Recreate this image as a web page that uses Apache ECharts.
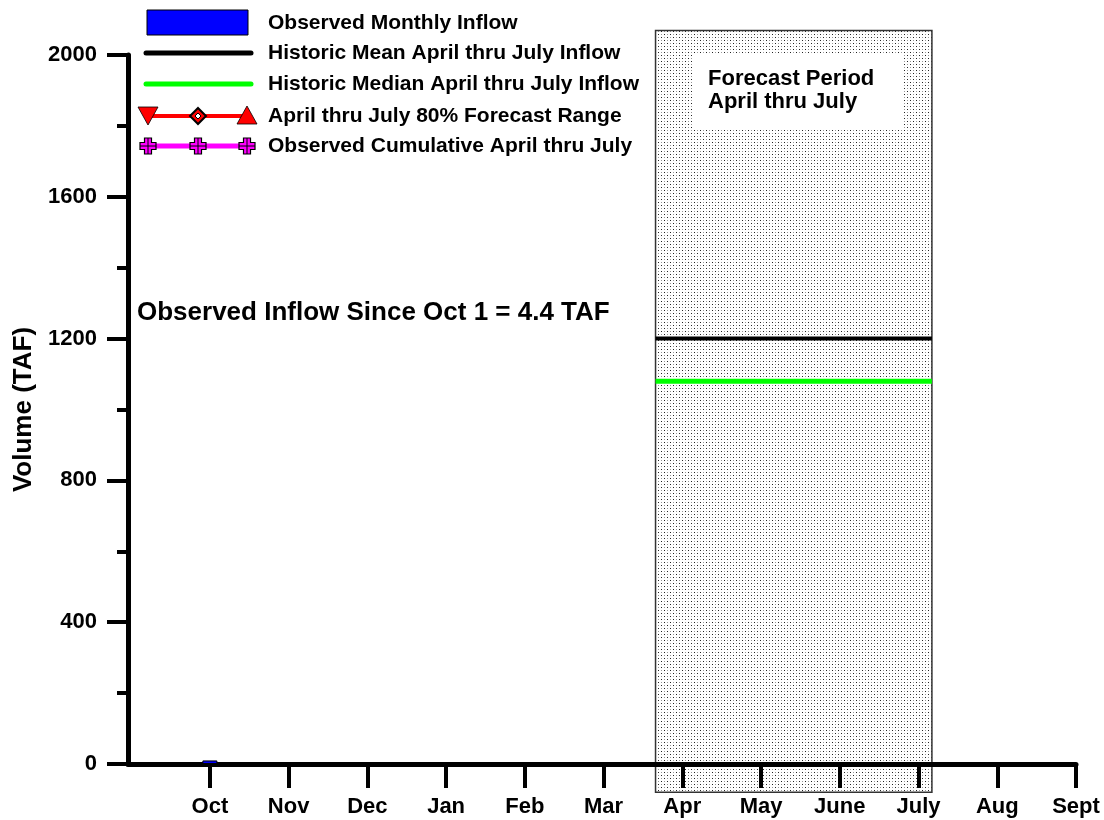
<!DOCTYPE html>
<html><head><meta charset="utf-8">
<script src="https://cdn.jsdelivr.net/npm/echarts@6/dist/echarts.min.js"></script>
<style>html,body{margin:0;padding:0;background:#fff}#c{width:1104px;height:820px}</style>
</head><body><div id="c"></div>
<script>
// ---- data ----
const months = ['Oct','Nov','Dec','Jan','Feb','Mar','Apr','May','June','July','Aug','Sept'];
const monthPositions = [1,2,3,4,5,6,7,8,9,10,11,12];
const observedMonthly = [4.4];          // Oct only
const historicMean = 1200;               // TAF, April thru July
const historicMedian = 1080;             // TAF, April thru July
const forecastSpan = [6.66, 10.17];      // x-range of forecast period box
const forecastVolumeSpan = [-80, 2069];  // y-range of forecast period box
const yTickValues = [0, 400, 800, 1200, 1600, 2000];
const legendLabels = ['Observed Monthly Inflow','Historic Mean April thru July Inflow','Historic Median April thru July Inflow','April thru July 80% Forecast Range','Observed Cumulative April thru July'];

const FONT = '"Liberation Sans", Arial, sans-serif';
const totalObserved = observedMonthly.reduce((a,b)=>a+b,0);

// dotted pattern
const pat = document.createElement('canvas');
pat.width = 6; pat.height = 6;
const pctx = pat.getContext('2d');
pctx.fillStyle = '#fff'; pctx.fillRect(0,0,6,6);
pctx.fillStyle = '#222'; pctx.fillRect(1,1,1,1); pctx.fillRect(4,4,1,1);
pctx.fillStyle = '#999'; pctx.fillRect(4,1,1,1); pctx.fillRect(1,4,1,1);

const chart = echarts.init(document.getElementById('c'), null, {renderer:'canvas'});

// legend graphics
const lx0 = 148, lx1 = 198, lx2 = 247, ltx = 268;
const rowY = [23, 53, 84, 116, 146];
const legend = [];
legend.push({type:'rect', shape:{x:147, y:10, width:101, height:25}, style:{fill:'#0000ff', stroke:'#000', lineWidth:1}});
legend.push({type:'line', shape:{x1:146, y1:rowY[1], x2:251, y2:rowY[1]}, style:{stroke:'#000', lineWidth:5, lineCap:'round'}});
legend.push({type:'line', shape:{x1:146, y1:rowY[2], x2:251, y2:rowY[2]}, style:{stroke:'#00ff00', lineWidth:5, lineCap:'round'}});
legend.push({type:'line', shape:{x1:lx0, y1:rowY[3], x2:lx2, y2:rowY[3]}, style:{stroke:'#ff0000', lineWidth:4}});
legend.push({type:'polygon', shape:{points:[[lx0-10,rowY[3]-9],[lx0+10,rowY[3]-9],[lx0,rowY[3]+9]]}, style:{fill:'#ff0000', stroke:'#000', lineWidth:0.8}});
legend.push({type:'polygon', shape:{points:[[lx2,rowY[3]-10],[lx2+10,rowY[3]+8],[lx2-10,rowY[3]+8]]}, style:{fill:'#ff0000', stroke:'#000', lineWidth:0.8}});
legend.push({type:'polygon', shape:{points:[[lx1,rowY[3]-8],[lx1+8,rowY[3]],[lx1,rowY[3]+8],[lx1-8,rowY[3]]]}, style:{fill:'#ff0000', stroke:'#000', lineWidth:2}});
legend.push({type:'polygon', shape:{points:[[lx1,rowY[3]-3],[lx1+3,rowY[3]],[lx1,rowY[3]+3],[lx1-3,rowY[3]]]}, style:{fill:'#fff', stroke:'#000', lineWidth:1}});
legend.push({type:'line', shape:{x1:lx0, y1:rowY[4], x2:lx2, y2:rowY[4]}, style:{stroke:'#ff00ff', lineWidth:5}});
[lx0, lx1, lx2].forEach(cx => {
  const cy = rowY[4], a = 3.5, b = 8;
  legend.push({type:'polygon', shape:{points:[[cx-a,cy-b],[cx+a,cy-b],[cx+a,cy-a],[cx+b,cy-a],[cx+b,cy+a],[cx+a,cy+a],[cx+a,cy+b],[cx-a,cy+b],[cx-a,cy+a],[cx-b,cy+a],[cx-b,cy-a],[cx-a,cy-a]]}, style:{fill:'#ff00ff', stroke:'#000', lineWidth:1.2}});
  legend.push({type:'line', shape:{x1:cx-b, y1:cy, x2:cx+b, y2:cy}, style:{stroke:'#000', lineWidth:1}});
  legend.push({type:'line', shape:{x1:cx, y1:cy-b, x2:cx, y2:cy+b}, style:{stroke:'#000', lineWidth:1}});
});
legendLabels.forEach((t,i) => {
  legend.push({type:'text', x:ltx, y:rowY[i], style:{text:t, font:'bold 21px '+FONT, fill:'#000', verticalAlign:'middle', align:'left'}});
});

const option = {
  animation: false,
  backgroundColor: '#fff',
  grid: {left:128, right:28, top:55, bottom:56},
  xAxis: {
    type:'value', min:-0.04, max:12, z:3, offset:2,
    axisLine:{show:true, lineStyle:{color:'#000', width:5, cap:'round'}},
    splitLine:{show:false},
    axisTick:{show:true, customValues:monthPositions, length:24, lineStyle:{color:'#000', width:4}},
    axisLabel:{customValues:monthPositions, formatter:v=>months[Math.round(v)-1], margin:30, color:'#000', fontSize:22, fontWeight:'bold', fontFamily:FONT}
  },
  yAxis: {
    type:'value', min:0, max:2000, interval:400, z:3,
    axisLine:{show:true, onZero:false, lineStyle:{color:'#000', width:5}},
    splitLine:{show:false},
    axisTick:{show:true, length:21, lineStyle:{color:'#000', width:4}},
    minorTick:{show:true, splitNumber:2, length:11, lineStyle:{color:'#000', width:4}},
    minorSplitLine:{show:false},
    axisLabel:{customValues:yTickValues, formatter:v=>String(v), margin:31, color:'#000', fontSize:22, fontWeight:'bold', fontFamily:FONT},
    name:'Volume (TAF)', nameLocation:'middle', nameGap:90,
    nameTextStyle:{color:'#000', fontSize:26, fontWeight:'bold', fontFamily:FONT}
  },
  series: [
    {
      type:'custom', z:1, clip:false, silent:true,
      data:[[forecastSpan[0], forecastSpan[1], forecastVolumeSpan[0], forecastVolumeSpan[1]]],
      encode:{x:[0,1], y:[2,3]},
      renderItem:function(params, api){
        const p1 = api.coord([api.value(0), api.value(3)]);
        const p2 = api.coord([api.value(1), api.value(2)]);
        return {type:'rect', shape:{x:p1[0], y:p1[1], width:p2[0]-p1[0], height:p2[1]-p1[1]},
          style:{fill:{image:pat, repeat:'repeat'}, stroke:'#333', lineWidth:1.5}};
      }
    },
    {
      type:'line', z:4, symbol:'none', name:legendLabels[1],
      data:[[forecastSpan[0], historicMean],[forecastSpan[1], historicMean]],
      lineStyle:{color:'#000', width:4}
    },
    {
      type:'line', z:4, symbol:'none', name:legendLabels[2],
      data:[[forecastSpan[0], historicMedian],[forecastSpan[1], historicMedian]],
      lineStyle:{color:'#00ff00', width:5}
    },
    {
      type:'custom', z:10, name:legendLabels[0], clip:false,
      data:observedMonthly.map((v,i)=>[monthPositions[i], v]),
      encode:{x:0, y:1},
      renderItem:function(params, api){
        const top = api.coord([api.value(0), api.value(1)]);
        const base = api.coord([api.value(0), 0]);
        const h = Math.max(base[1]-top[1], 0);
        return {type:'rect', shape:{x:top[0]-7, y:top[1]-1.5, width:14, height:h+1},
          style:{fill:'#0000ff', stroke:'#000', lineWidth:1}};
      }
    }
  ],
  graphic: [
    {type:'rect', z:10, shape:{x:692, y:54, width:211, height:74}, style:{fill:'#fff'}},
    {type:'text', z:11, x:708, y:79, style:{text:'Forecast Period', font:'bold 22px '+FONT, fill:'#000', verticalAlign:'middle'}},
    {type:'text', z:11, x:708, y:102, style:{text:'April thru July', font:'bold 22px '+FONT, fill:'#000', verticalAlign:'middle'}},
    {type:'text', z:11, x:137, y:313, style:{text:'Observed Inflow Since Oct 1 = ' + totalObserved.toFixed(1) + ' TAF', font:'bold 26px '+FONT, fill:'#000', verticalAlign:'middle'}},
    {type:'group', z:11, children:legend}
  ]
};
chart.setOption(option);
</script>
</body></html>
